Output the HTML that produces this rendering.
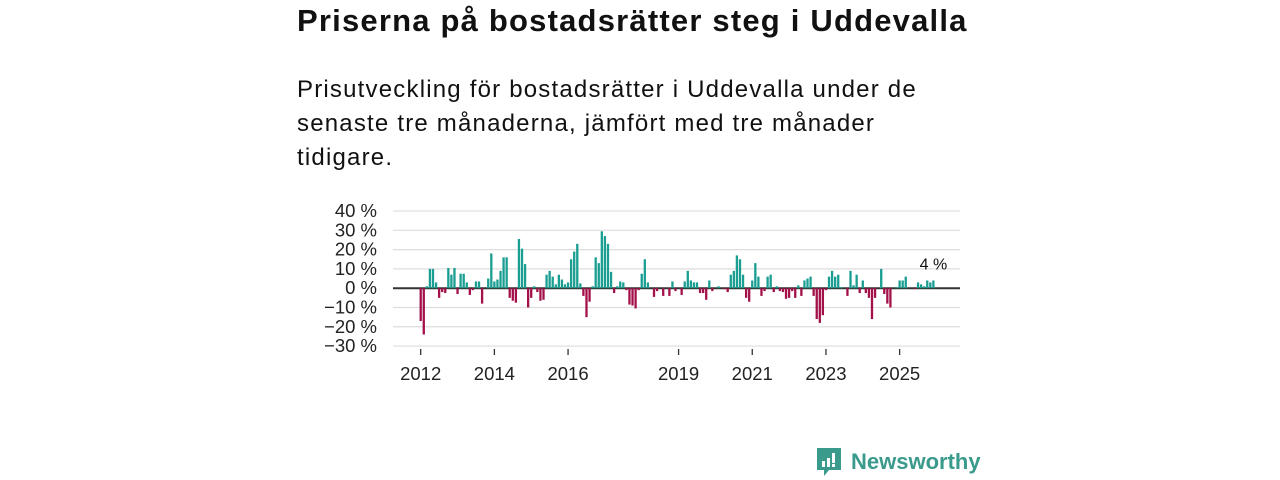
<!DOCTYPE html>
<html><head><meta charset="utf-8"><style>
body{margin:0;width:1280px;height:480px;background:#fff;overflow:hidden;font-family:"Liberation Sans","DejaVu Sans",sans-serif;color:#111}
h1{position:absolute;left:297px;top:3px;margin:0;font-size:31px;font-weight:bold;letter-spacing:1.2px;white-space:nowrap}
.sub{position:absolute;left:297px;top:73px;width:660px;margin:0;font-size:24px;letter-spacing:1.2px;line-height:34px;color:#111}
svg{position:absolute;left:0;top:0}
.logo{position:absolute;left:815px;top:446px;display:flex;align-items:center;gap:8px;color:#3a9a8c;font-size:22px;font-weight:bold}
</style></head><body>
<h1>Priserna på bostadsrätter steg i Uddevalla</h1>
<p class="sub">Prisutveckling för bostadsrätter i Uddevalla under de<br>senaste tre månaderna, jämfört med tre månader<br>tidigare.</p>
<svg id="chart" width="1280" height="480"></svg>
<div class="logo">
<svg width="28" height="32" viewBox="0 0 28 32" style="position:static"><path d="M2 2h24v22H14l-5 6v-6H2z" fill="#3a9a8c"/><rect x="7" y="15" width="3" height="6" fill="#fff"/><rect x="12" y="12" width="3" height="9" fill="#fff"/><rect x="17" y="7" width="3" height="10" fill="#fff"/><rect x="17" y="18" width="3" height="3" fill="#fff"/></svg>
<span>Newsworthy</span></div>
<script>
const values=[-17,-24,1,10,10,3,-5,-2,-2.5,10.5,7,10.5,-3,7.5,7.5,3,-3.5,-1,3.5,3.5,-8,0,5,18,3.5,4.5,9,16,16,-5,-6.5,-7.5,25.5,20.5,12.5,-10,-5,1,-2,-6.5,-6,7,9,6,2,7,4.5,2,3,15,19,23,2.5,-4,-15,-7,1,16,13,29.5,27,23,8.5,-2.5,1,3.5,3,-1,-8.5,-9,-10.5,-1,7.5,15,3,0,-4.5,-1.5,0,-4,0,-4,3.5,-1.5,0,-3.5,3.5,9,4,3,3,-2.5,-2.5,-6,4,-1.5,0,1,0,-0.5,-2,7,9,17,15,7,-5,-7,4,13,6,-4,-1.5,6,7,-2,1,-1.5,-2,-5.5,-5,-1.5,-5,1.5,-4,4,5,6,-4,-16,-18,-14,-1,6,9,6,7,0.5,0,-4,9,1.5,7,-2.5,4,-2.5,-5,-16,-5,0,10,-3,-8,-10,0,0.5,4,4,6,0,0,-0.5,3,2,1,4,3,4];
const yTicks=[40,30,20,10,0,-10,-20,-30];
const xTickYears=[2012,2014,2016,2019,2021,2023,2025];
const lastLabel="4 %";
const svg=document.getElementById('chart');const NS='http://www.w3.org/2000/svg';
const y=v=>288.2-v*1.929;
const x=m=>420.7+m*3.07;
function mk(t,a){const e=document.createElementNS(NS,t);for(const k in a)e.setAttribute(k,a[k]);svg.appendChild(e);return e;}
yTicks.forEach(v=>{
 const l=mk('line',{x1:393,x2:960,y1:y(v),y2:y(v),stroke:v===0?'#333':'#ddd','stroke-width':v===0?2:1.2});
 
 
 const t=mk('text',{x:377,y:y(v)+6,'text-anchor':'end','font-size':18.5,fill:'#222'});
 t.textContent=(v<0?'\u2212'+(-v):v)+' %';
 
 
});
values.forEach((v,i)=>{
 if(v===0)return;
 const r=mk('rect',{x:x(i)-1.15,width:2.3,y:v>0?y(v):y(0),height:Math.abs(y(v)-y(0)),fill:v>0?'#1a9e92':'#a3104a'});
 
 
});
xTickYears.forEach(yr=>{
 const m=(yr-2012)*12;
 const l=mk('line',{x1:x(m),x2:x(m),y1:349,y2:355,stroke:'#333','stroke-width':1.3});
 
 
 const t=mk('text',{x:x(m),y:380,'text-anchor':'middle','font-size':18.5,fill:'#222'});
 t.textContent=yr;
 
 
});
const lv=values.length-1;
const lt=mk('text',{x:x(lv),y:y(values[lv])-11,'text-anchor':'middle','font-size':16,fill:'#111'});
lt.textContent=lastLabel;


</script>
</body></html>
